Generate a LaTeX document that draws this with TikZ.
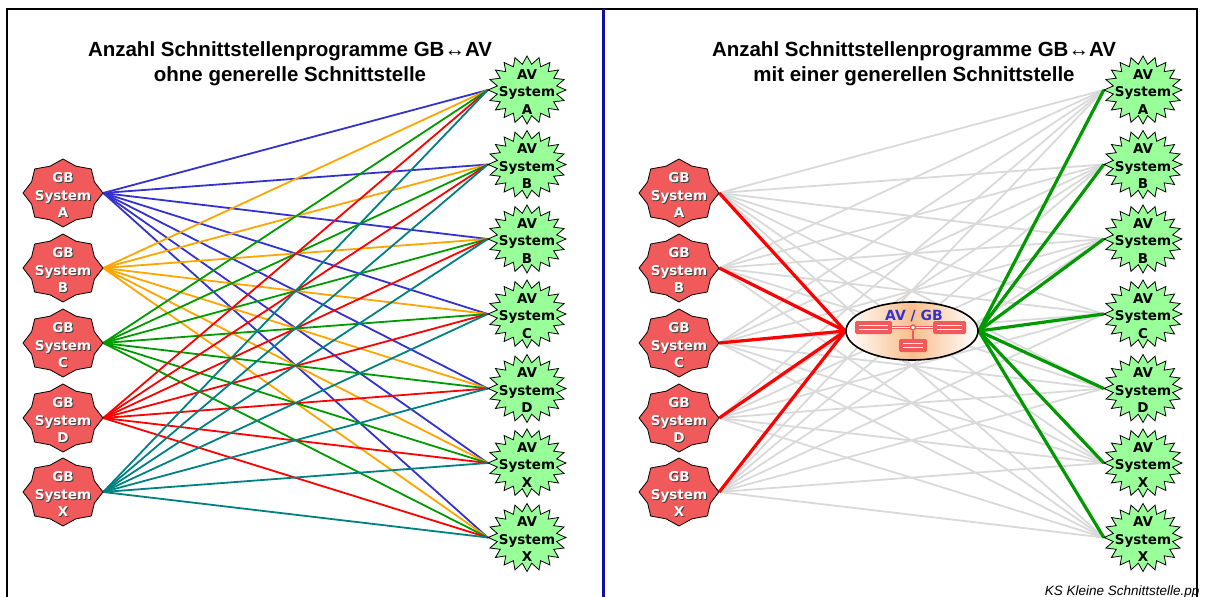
\documentclass[tikz,border=0pt]{standalone}
\usepackage{fontspec}
\setmainfont{Liberation Sans}
\newfontfamily\verdfont{DejaVu Sans}
\usetikzlibrary{positioning,calc,backgrounds,shapes.geometric}
\definecolor{gbred}{HTML}{F05A5A}
\definecolor{avgreen}{HTML}{99FF99}
\definecolor{lineA}{HTML}{3333CC}
\definecolor{lineB}{HTML}{FFA500}
\definecolor{lineC}{HTML}{009900}
\definecolor{lineD}{HTML}{FF0000}
\definecolor{lineX}{HTML}{008080}
\definecolor{greyline}{HTML}{D9D9D9}
\definecolor{dividerblue}{HTML}{1010A0}
\definecolor{hubpeach}{HTML}{F8BE8C}

% seal (GB) and starburst (AV) with a text node on top
\newcommand{\gbnode}[4]{%
  \draw[sealfill] plot[variable=\k, samples at={0,...,15}]
    ({#2+(40-6*mod(\k,2))*cos(90+22.5*\k)}, {#3+(34-5*mod(\k,2))*sin(90+22.5*\k)}) -- cycle;
  \node[gbshadow] at ({#2+1},{#3+1}) {\rule{0pt}{14.5pt}GB\\System\\#4};
  \node[gbtext] (#1) at (#2,#3) {\rule{0pt}{14.5pt}GB\\System\\#4};
}
\newcommand{\avnode}[4]{%
  \draw[starfill] plot[variable=\k, samples at={0,...,39}]
    ({#2+(39-9*mod(\k,2))*cos(90+9*\k)}, {#3+(34-8*mod(\k,2))*sin(90+9*\k)}) -- cycle;
  \node[avtext] (#1) at (#2,#3) {\rule{0pt}{13.5pt}AV\\System\\#4};
}

\begin{document}
\begin{tikzpicture}[
  x=1pt, y=-1pt,
  title/.style={font=\bfseries\fontsize{20.5}{24.5}\selectfont, align=center},
  sealfill/.style={fill=gbred, draw=black, line width=0.8pt, line join=round},
  starfill/.style={fill=avgreen, draw=black, line width=0.8pt, line join=miter},
  gbtext/.style={minimum width=80pt, minimum height=68pt, inner sep=0pt,
    align=center, text=white, font=\verdfont\bfseries\fontsize{13.5}{17.5}\selectfont},
  gbshadow/.style={gbtext, text=black!75},
  avtext/.style={minimum width=78pt, minimum height=68pt, inner sep=0pt,
    align=center, font=\verdfont\bfseries\fontsize{13.5}{17.5}\selectfont},
  link/.style={line width=1.8pt, draw=#1},
  ghost/.style={line width=1.8pt, draw=greyline},
  hublink/.style={line width=3.2pt, draw=#1},
  hub/.style={ellipse, draw=black, line width=1.6pt,
    minimum width=132pt, minimum height=58pt,
    left color=white, right color=white, middle color=hubpeach},
  iconbox/.style={fill=gbred, rounded corners=1.5pt, minimum width=#1,
    minimum height=13pt, inner sep=0pt,
    path picture={\draw[white, line width=1.3pt]
      ([xshift=4pt,yshift=2pt]path picture bounding box.west) -- ([xshift=-4pt,yshift=2pt]path picture bounding box.east)
      ([xshift=4pt,yshift=-2pt]path picture bounding box.west) -- ([xshift=-4pt,yshift=-2pt]path picture bounding box.east);}},
  footer/.style={font=\itshape\fontsize{13.5}{16}\selectfont},
]
\useasboundingbox (0,0) rectangle (1208,597);

% --- frame ----------------------------------------------------------
\draw[line width=2pt] (7,597) |- (1197,9) -- (1197,597);
\draw[dividerblue, line width=3pt] (603,9) -- (603,597);

% --- titles ---------------------------------------------------------
\node[title] (tL) at (290,63.5) {Anzahl Schnittstellenprogramme GB↔AV\\ohne generelle Schnittstelle};
\node[title] (tR) at (914,63.5) {Anzahl Schnittstellenprogramme GB↔AV\\mit einer generellen Schnittstelle};

% --- systems, both halves -------------------------------------------
\foreach \i/\y/\s in {1/193/A,2/268/B,3/343/C,4/418/D,5/492/X} {
  \gbnode{Lg\i}{63}{\y}{\s}
  \gbnode{Rg\i}{679}{\y}{\s}
}
\foreach \i/\y/\s in {1/90/A,2/164.5/B,3/239/B,4/314/C,5/388.5/D,6/463/X,7/537.5/X} {
  \avnode{La\i}{527}{\y}{\s}
  \avnode{Ra\i}{1143}{\y}{\s}
}

% --- general interface ----------------------------------------------
\node[hub] (hub) at (912,331) {};
\node[iconbox=37pt] (icL) at (873.5,327.5) {};
\node[iconbox=33pt] (icR) at (949.5,327.5) {};
\node[iconbox=28pt] (icB) at (913,345.5) {};
\draw[gbred, double=white, double distance=1.1pt, line width=1.3pt] (icL.east) -- (icR.west);
\node[circle, draw=gbred, fill=white, line width=1.4pt, inner sep=0pt, minimum size=5pt] (icJ) at (913,327.5) {};
\draw[gbred, line width=2pt] (icJ.south) -- (icB.north);
\node[font=\verdfont\bfseries\fontsize{14}{16}\selectfont, text=lineA] (hubT) at (914,316) {AV / GB};

% --- links ----------------------------------------------------------
\begin{scope}[on background layer]
  \foreach \i/\c in {1/lineA,2/lineB,3/lineC,4/lineD,5/lineX}
    \foreach \j in {1,...,7}
      \draw[link=\c] (Lg\i.east) -- (La\j.west);
  \foreach \i in {1,...,5}
    \foreach \j in {1,...,7}
      \draw[ghost] (Rg\i.east) -- (Ra\j.west);
  \foreach \i in {1,...,5}
    \draw[hublink=lineD] (Rg\i.east) -- (hub.west);
  \foreach \j in {1,...,7}
    \draw[hublink=lineC] (hub.east) -- (Ra\j.west);
\end{scope}

\node[footer, anchor=base east] (ft) at (1203,595) {KS Kleine Schnittstelle.pp};
\end{tikzpicture}
\end{document}
